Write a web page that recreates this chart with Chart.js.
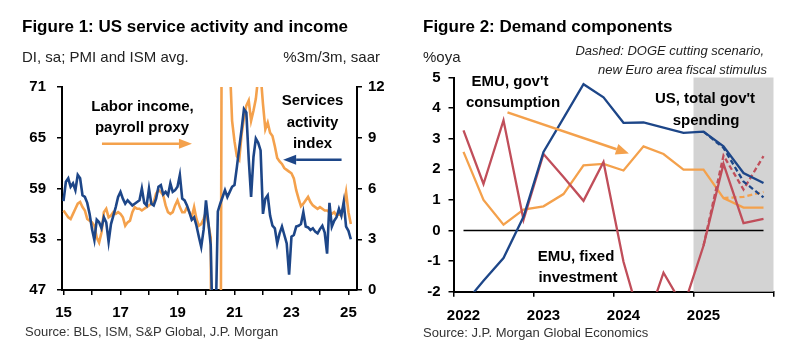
<!DOCTYPE html>
<html><head><meta charset="utf-8">
<script src="https://cdn.jsdelivr.net/npm/chart.js@4/dist/chart.umd.min.js"></script>
<style>
html,body{margin:0;padding:0;background:#fff;}
#wrap{position:relative;width:800px;height:355px;overflow:hidden;background:#fff;font-family:"Liberation Sans",Arial,sans-serif;}
canvas{position:absolute;top:0;}
.t{position:absolute;white-space:nowrap;line-height:1;}
</style></head><body>
<div id="wrap">
<canvas id="c1" width="400" height="355" style="left:0"></canvas>
<canvas id="c2" width="400" height="355" style="left:400px"></canvas>
</div>
<script>
// ---------- Figure 1 data (monthly, Jan 2015 .. Feb 2025) ----------
const yearLabels = ['15','16','17','18','19','20','21','22','23','24','25'];
const servicesIdx = [
 57.5,59.8,60.2,59.2,59.6,58.8,60.6,60.2,58.2,58.0,57.3,56.0,
 54.2,52.9,55.3,55.0,54.3,55.6,55.0,52.7,54.8,55.8,56.8,58.0,
 58.6,57.8,57.2,57.6,57.3,57.0,57.2,57.4,57.6,59.0,57.3,57.0,
 59.0,57.2,57.0,57.8,59.2,59.4,58.3,58.6,58.2,59.6,58.6,58.8,
 59.2,60.6,57.8,57.6,57.0,56.2,55.3,55.6,54.6,53.3,52.1,54.1,
 57.6,55.0,52.3,40.0,42.0,56.3,57.2,58.0,58.8,58.0,58.6,59.2,
 59.4,61.5,63.8,66.0,68.4,68.0,62.5,58.0,62.7,64.9,64.4,63.5,
 56.0,57.8,58.2,55.8,54.6,54.3,52.5,53.7,54.5,53.5,52.5,48.8,
 53.3,53.5,54.5,54.6,54.8,56.2,54.5,54.4,54.1,54.3,53.9,53.7,
 54.2,54.6,53.8,51.3,57.3,54.5,55.2,55.6,56.6,55.8,57.4,54.5,
 54.0,53.0];
const laborIncome = [
 4.7,4.5,4.3,4.2,4.5,4.8,5.1,5.2,4.9,4.7,4.2,4.1,
 4.0,3.8,3.1,2.8,3.4,4.6,4.8,4.3,4.4,4.6,4.5,4.6,
 4.5,4.3,3.8,4.0,4.1,4.6,4.9,4.8,4.8,4.7,4.8,4.9,
 5.0,5.1,5.2,5.7,5.9,5.8,5.6,5.0,4.6,4.5,4.6,5.0,
 5.3,4.9,4.6,4.6,4.9,4.6,4.3,4.9,4.2,3.8,3.9,4.2,
 4.6,3.9,3.1,-30,-20,-12,-15,35,25,16,13.5,10.0,
 8.8,7.9,7.7,9.2,10.2,10.9,11.2,10.0,10.6,11.3,12.6,12.8,
 11.0,9.5,9.9,9.3,9.1,8.5,7.8,7.6,7.45,7.2,7.1,7.0,
 6.9,6.6,5.9,5.4,4.95,5.1,5.3,5.5,5.2,5.0,4.9,4.8,
 4.9,4.8,4.7,4.7,4.6,4.5,4.6,4.4,4.5,4.4,5.0,5.8,
 4.6,3.9];

// ---------- Figure 2 data (quarterly, 2022Q1 .. 2025Q4) ----------
const quarters = ['2022Q1','2022Q2','2022Q3','2022Q4','2023Q1','2023Q2','2023Q3','2023Q4',
                  '2024Q1','2024Q2','2024Q3','2024Q4','2025Q1','2025Q2','2025Q3','2025Q4'];
const usGovSpending   = [-2.43,-1.64,-0.9,0.45,2.57,3.67,4.78,4.35,3.52,3.53,3.36,3.19,3.23,2.75,1.88,1.55];
const usGovDoge       = [null,null,null,null,null,null,null,null,null,null,null,null,3.23,2.7,1.6,1.08];
const emuGovCons      = [2.57,1.0,0.19,0.68,0.79,1.19,2.13,2.18,1.96,2.75,2.5,1.99,1.99,1.06,0.75,0.75];
const emuGovConsStim  = [null,null,null,null,null,null,null,null,null,null,null,null,null,1.06,1.1,1.26];
const emuFixedInv     = [3.27,1.52,3.6,0.35,2.5,1.75,0.97,2.24,-1.02,-3.3,-1.38,-2.5,-0.5,2.18,0.24,0.38];
const emuFixedInvStim = [null,null,null,null,null,null,null,null,null,null,null,null,-0.5,2.45,1.34,2.43];
const zeroLine        = [0,0,0,0,0,0,0,0,0,0,0,0,0,0,0,0];
const shadeFrom = '2025Q1';

const BLUE = '#1d4688', ORANGE = '#f4a14c', RED = '#c04e5a';
Chart.defaults.font.family = '"Liberation Sans", Arial, sans-serif';
Chart.defaults.color = '#000';

// ---------- text helper ----------
const wrap = document.getElementById('wrap');
function txt(s, x, cy, size, o) {
  o = o || {};
  const d = document.createElement('div');
  d.className = 't';
  d.textContent = s;
  d.style.fontSize = size + 'px';
  d.style.fontWeight = o.bold ? 'bold' : 'normal';
  if (o.italic) d.style.fontStyle = 'italic';
  d.style.color = o.color || '#000';
  d.style.top = (cy - 0.49 * size) + 'px';
  d.style.left = x + 'px';
  if (o.align === 'center') d.style.transform = 'translateX(-50%)';
  if (o.align === 'right') d.style.transform = 'translateX(-100%)';
  wrap.appendChild(d);
}

// ---------- plugins ----------
const arrowPlugin = {
  id: 'arrows',
  afterDatasetsDraw(chart, args, opts) {
    const ctx = chart.ctx;
    (opts.list || []).forEach(a => {
      const xs = chart.scales[a.xAxis], ys = chart.scales[a.yAxis];
      const x1 = xs.getPixelForValue(a.from[0]), y1 = ys.getPixelForValue(a.from[1]);
      const x2 = xs.getPixelForValue(a.to[0]), y2 = ys.getPixelForValue(a.to[1]);
      const ang = Math.atan2(y2 - y1, x2 - x1);
      const bx = x2 - a.headLen * Math.cos(ang), by = y2 - a.headLen * Math.sin(ang);
      const hw = a.headWidth / 2;
      ctx.save();
      ctx.strokeStyle = a.color; ctx.fillStyle = a.color; ctx.lineWidth = a.width;
      ctx.beginPath(); ctx.moveTo(x1, y1); ctx.lineTo(bx, by); ctx.stroke();
      ctx.beginPath(); ctx.moveTo(x2, y2);
      ctx.lineTo(bx + hw * Math.sin(ang), by - hw * Math.cos(ang));
      ctx.lineTo(bx - hw * Math.sin(ang), by + hw * Math.cos(ang));
      ctx.closePath(); ctx.fill();
      ctx.restore();
    });
  }
};
const shadePlugin = {
  id: 'shade',
  beforeDatasetsDraw(chart, args, opts) {
    if (!opts.from) return;
    const xs = chart.scales.x, ca = chart.chartArea;
    const x0 = xs.getPixelForValue(quarters.indexOf(opts.from) - 0.5);
    const ctx = chart.ctx;
    ctx.save(); ctx.fillStyle = opts.color;
    ctx.fillRect(x0, ca.top, ca.right - x0, ca.bottom - ca.top);
    ctx.restore();
  }
};

const tickFont = { size: 15, weight: 'bold' };

// ---------- Figure 1 ----------
new Chart(document.getElementById('c1'), {
  type: 'line',
  data: { datasets: [
    { label: 'Services activity index', data: servicesIdx.map((v, i) => ({ x: i, y: v })),
      yAxisID: 'yL', borderColor: BLUE, borderWidth: 2.6, pointRadius: 0, tension: 0 },
    { label: 'Labor income, payroll proxy', data: laborIncome.map((v, i) => ({ x: i, y: v })),
      yAxisID: 'yR', borderColor: ORANGE, borderWidth: 2.6, pointRadius: 0, tension: 0 }
  ]},
  plugins: [arrowPlugin],
  options: {
    responsive: false, animation: false,
    layout: { padding: { top: 87, left: 0, right: 0, bottom: 0 } },
    plugins: {
      legend: { display: false }, tooltip: { enabled: false },
      arrows: { list: [
        { xAxis: 'x', yAxis: 'yL', from: [16.2, 64.3], to: [54.1, 64.3], color: ORANGE, width: 2.5, headLen: 13, headWidth: 10 },
        { xAxis: 'x', yAxis: 'yL', from: [117.1, 62.4], to: [92.5, 62.4], color: BLUE, width: 2.5, headLen: 13, headWidth: 10 }
      ]}
    },
    scales: {
      x: { type: 'linear', min: -0.63, max: 123.6,
        afterBuildTicks: s => { s.ticks = yearLabels.map((_, k) => ({ value: 12 * k })); },
        ticks: { autoSkip: false, maxRotation: 0, font: tickFont, color: '#000', padding: 9,
          callback: (v, i) => (i % 2 === 0 ? yearLabels[i] : '') },
        grid: { drawOnChartArea: false, drawTicks: true, tickLength: 5, color: '#000', lineWidth: 1.5 },
        border: { display: true, color: '#000', width: 2 },
        afterFit: s => { s.height = 65; } },
      yL: { position: 'left', min: 47, max: 71,
        ticks: { stepSize: 6, font: tickFont, color: '#000', padding: 11 },
        grid: { drawOnChartArea: false, drawTicks: true, tickLength: 5, color: '#000', lineWidth: 1.5 },
        border: { display: true, color: '#000', width: 2 },
        afterFit: s => { s.width = 62; } },
      yR: { position: 'right', min: 0, max: 12,
        ticks: { stepSize: 3, font: tickFont, color: '#000', padding: 6 },
        grid: { drawOnChartArea: false, drawTicks: true, tickLength: 5, color: '#000', lineWidth: 1.5 },
        border: { display: true, color: '#000', width: 2 },
        afterFit: s => { s.width = 43; } }
    }
  }
});

// ---------- Figure 2 ----------
const lineDs = (label, data, color, dash) => ({ label, data, borderColor: color, borderWidth: 2.3,
  borderDash: dash ? [5, 3] : [], pointRadius: 0, tension: 0, spanGaps: false });
new Chart(document.getElementById('c2'), {
  type: 'line',
  data: { labels: quarters, datasets: [
    lineDs('US, total gov\'t spending (DOGE)', usGovDoge, BLUE, true),
    lineDs('US, total gov\'t spending', usGovSpending, BLUE, false),
    lineDs('EMU, fixed investment (stimulus)', emuFixedInvStim, RED, true),
    lineDs('EMU, fixed investment', emuFixedInv, RED, false),
    lineDs('EMU, gov\'t consumption (stimulus)', emuGovConsStim, ORANGE, true),
    lineDs('EMU, gov\'t consumption', emuGovCons, ORANGE, false),
    { label: 'zero', data: zeroLine, borderColor: '#000', borderWidth: 1.5, pointRadius: 0 }
  ]},
  plugins: [shadePlugin, arrowPlugin],
  options: {
    responsive: false, animation: false,
    layout: { padding: { top: 77.5, left: 0, right: 26.5, bottom: 0 } },
    plugins: {
      legend: { display: false }, tooltip: { enabled: false },
      shade: { from: shadeFrom, color: '#d3d3d3' },
      arrows: { list: [
        { xAxis: 'x', yAxis: 'y', from: [2.2, 3.86], to: [8.27, 2.52], color: ORANGE, width: 2.5, headLen: 13, headWidth: 11 }
      ]}
    },
    scales: {
      x: { type: 'category', offset: true,
        ticks: { autoSkip: false, maxRotation: 0, font: tickFont, color: '#000', padding: 10,
          callback: (v, i) => (i % 4 === 0 ? quarters[i].slice(0, 4) : '') },
        grid: { offset: true, drawOnChartArea: false, drawTicks: true, tickLength: 5, lineWidth: 1.5,
          color: c => (c.index === undefined || c.index % 4 === 0) ? '#000' : 'rgba(0,0,0,0)' },
        border: { display: true, color: '#000', width: 2 },
        afterFit: s => { s.height = 355 - 291.7; } },
      y: { min: -2, max: 5,
        ticks: { stepSize: 1, font: tickFont, color: '#000', padding: 8 },
        grid: { drawOnChartArea: false, drawTicks: true, tickLength: 5, color: '#000', lineWidth: 1.5 },
        border: { display: true, color: '#000', width: 2 },
        afterFit: s => { s.width = 53.5; } }
    }
  }
});

// ---------- texts ----------
txt('Figure 1: US service activity and income', 22, 26.7, 17, { bold: true });
txt('DI, sa; PMI and ISM avg.', 22, 56.7, 15, { color: '#222' });
txt('%3m/3m, saar', 380, 56.7, 15, { color: '#222', align: 'right' });
txt('Labor income,', 142.5, 105.5, 15, { bold: true, align: 'center' });
txt('payroll proxy', 142, 126.5, 15, { bold: true, align: 'center' });
txt('Services', 312.5, 99.5, 15, { bold: true, align: 'center' });
txt('activity', 312.5, 121, 15, { bold: true, align: 'center' });
txt('index', 312.5, 142.5, 15, { bold: true, align: 'center' });
txt('Source: BLS, ISM, S&P Global, J.P. Morgan', 25, 331.7, 13, { color: '#333' });

txt('Figure 2: Demand components', 423, 26.7, 17, { bold: true });
txt('%oya', 423, 56, 15, { color: '#222' });
txt('Dashed: DOGE cutting scenario,', 764, 50.8, 13, { italic: true, color: '#222', align: 'right' });
txt('new Euro area fiscal stimulus', 767, 69, 13, { italic: true, color: '#222', align: 'right' });
txt('EMU, gov\'t', 510, 80, 15, { bold: true, align: 'center' });
txt('consumption', 513, 101.3, 15, { bold: true, align: 'center' });
txt('US, total gov\'t', 705, 97.7, 15, { bold: true, align: 'center' });
txt('spending', 706, 119, 15, { bold: true, align: 'center' });
txt('EMU, fixed', 576, 255.3, 15, { bold: true, align: 'center' });
txt('investment', 578, 276.3, 15, { bold: true, align: 'center' });
txt('Source: J.P. Morgan Global Economics', 423, 332, 13, { color: '#333' });
</script>
</body></html>
